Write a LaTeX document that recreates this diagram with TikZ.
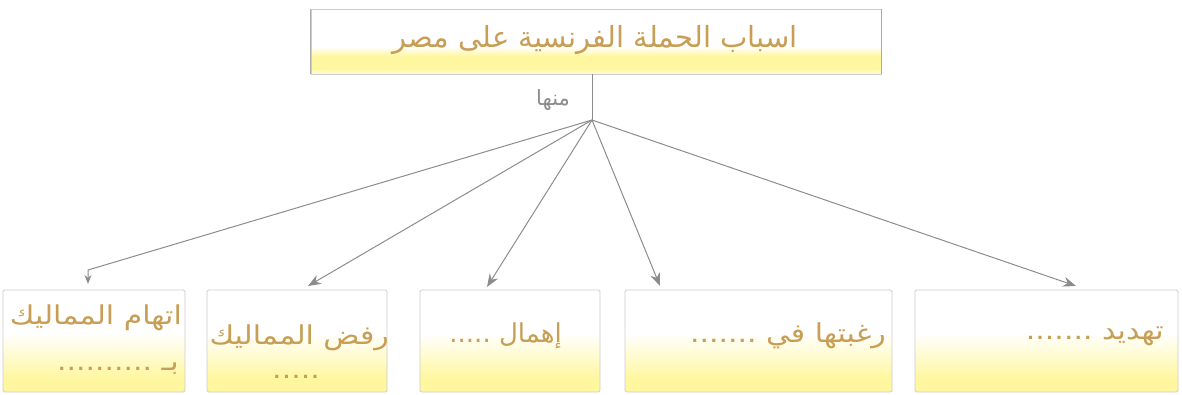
\documentclass[tikz,border=0pt]{standalone}
\usepackage{fontspec}
\TeXXeTstate=1
\newfontfamily\arabicfont[Script=Arabic]{DejaVu Sans}
\newfontfamily\arabicwide[Script=Arabic,FakeStretch=1.15]{DejaVu Sans}
\usetikzlibrary{arrows.meta}
\definecolor{ylw}{RGB}{255,247,160}
\definecolor{txt}{RGB}{200,158,85}
\definecolor{edgegray}{RGB}{205,205,205}
\definecolor{sidegray}{RGB}{170,170,170}
\definecolor{arrgray}{RGB}{140,140,140}
\definecolor{lblgray}{RGB}{140,140,140}
\pgfdeclareverticalshading{boxshade}{100bp}{color(0bp)=(ylw); color(32bp)=(ylw); color(54bp)=(white); color(100bp)=(white)}
\pgfdeclareverticalshading{titleshade}{100bp}{color(0bp)=(ylw!50); color(26bp)=(ylw!50); color(29bp)=(ylw); color(39bp)=(ylw); color(46bp)=(white); color(100bp)=(white)}
\tikzset{
  causebox/.style={draw=edgegray, line width=0.8pt, shading=boxshade, rounded corners=1.5pt, minimum height=102pt, inner sep=0pt},
  titlebox/.style={draw=edgegray, line width=0.8pt, shading=titleshade, minimum width=570pt, minimum height=65pt, inner sep=0pt},
  artext/.style={text=txt, font=\arabicwide\fontsize{26}{30}\selectfont, inner sep=0pt},
  conn/.style={draw=arrgray, line width=1pt, -{Stealth[length=13pt,width=10pt]}},
  conns/.style={draw=arrgray, line width=1pt, -{Stealth[length=9pt,width=7pt]}},
}
\begin{document}
\begin{tikzpicture}[x=1pt,y=-1pt]
\useasboundingbox (0,0) rectangle (1182,394);
% title
\node[titlebox] (top) at (596,41.5) {};
\draw[draw=sidegray, line width=1pt] (top.north west) -- (top.south west) (top.north east) -- (top.south east);
\node[artext, font=\arabicfont\fontsize{29}{33}\selectfont] (title) at (595,40) {\beginR اسباب الحملة الفرنسية على مصر\endR};
% hub
\coordinate (hub) at (592,120);
\draw[draw=lblgray, line width=0.8pt] (top.south -| hub) -- (hub);
\node[text=lblgray, font=\arabicfont\fontsize{21}{25}\selectfont, inner sep=0pt] (minha) at (553,100) {\beginR منها\endR};
% boxes
\node[causebox, minimum width=182pt] (b1) at (94,341) {};
\node[causebox, minimum width=180pt] (b2) at (297,341) {};
\node[causebox, minimum width=180pt] (b3) at (510,341) {};
\node[causebox, minimum width=267pt] (b4) at (758.5,341) {};
\node[causebox, minimum width=263pt] (b5) at (1046.5,341) {};
% texts
\node[artext, anchor=east] (l1a) at (182,318) {\beginR اتهام المماليك\endR};
\node[artext, anchor=east] (l1b) at (179,369) {\beginR بـ ..........\endR};
\node[artext, anchor=east] (l2a) at (389,338) {\beginR رفض المماليك\endR};
\node[artext] (l2b) at (296,377) {.....};
\node[artext, font=\arabicfont\fontsize{26}{30}\selectfont, anchor=east] (l3) at (562,336) {\beginR إهمال .....\endR};
\node[artext, anchor=east] (l4) at (886,336) {\beginR رغبتها في .......\endR};
\node[artext, anchor=east] (l5) at (1164,336) {\beginR تهديد .......\endR};
% connectors
\coordinate (k1) at (88,270);
\coordinate (t1) at (88,284);
\coordinate (t2) at (308,286);
\coordinate (t3) at (487,287);
\coordinate (t4) at (660,286);
\coordinate (t5) at (1076,286);
\draw[conns] (hub) -- (k1) -- (t1);
\draw[conn] (hub) -- (t2);
\draw[conn] (hub) -- (t3);
\draw[conn] (hub) -- (t4);
\draw[conn] (hub) -- (t5);
\end{tikzpicture}
\end{document}
